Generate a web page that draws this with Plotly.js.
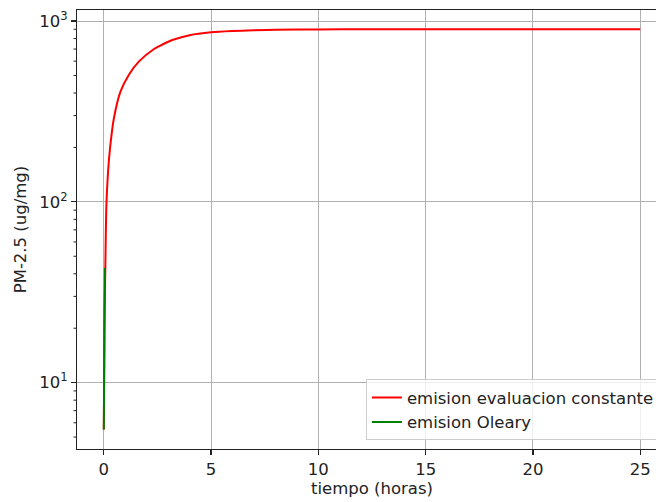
<!DOCTYPE html>
<html>
<head>
<meta charset="utf-8">
<script src="https://cdn.plot.ly/plotly-3.0.1.min.js"></script>
<style>
html,body{margin:0;padding:0;overflow:hidden;background:#fff;}
#chart{width:700px;height:502px;}
</style>
</head>
<body>
<div id="chart"></div>
<script>
// Red series: emision evaluacion constante
const tConst = [0, 0.03, 0.07, 0.12, 0.2, 0.29, 0.47, 0.78, 1.17, 1.64, 2.34, 2.59, 3.19, 4.0, 5.0, 6.0, 7.0, 8.0, 10.0, 12.0, 15.0, 20.0, 25.0];
const pmConst = [5.5, 22, 43, 96, 148, 198, 290, 408, 505, 598, 700, 727, 785, 835, 866, 881, 890, 895, 899, 900, 900, 900, 900];
// Green series: emision Oleary
const tOleary = [0, 0.025, 0.05];
const pmOleary = [5.5, 15.4, 43];
// Tick labels
const xTicks = [0, 5, 10, 15, 20, 25];
const yTickVals = [10, 100, 1000];
const yTickText = ['10<sup>1</sup>', '10<sup>2</sup>', '10<sup>3</sup>'];
const yMinorVals = [5, 6, 7, 8, 9, 20, 30, 40, 50, 60, 70, 80, 90, 200, 300, 400, 500, 600, 700, 800, 900];

const font = {family: 'DejaVu Sans', size: 16.5, color: '#222'};
const yRange = [0.633, 3.061];

const traces = [
  {x: tConst, y: pmConst, mode: 'lines', name: 'emision evaluacion constante',
   line: {color: '#ff0000', width: 2, shape: 'spline', smoothing: 0.8}},
  {x: tOleary, y: pmOleary, mode: 'lines', name: 'emision Oleary',
   line: {color: '#008000', width: 2}}
];

const layout = {
  width: 700, height: 502,
  margin: {l: 77, r: 33, t: 10, b: 53},
  paper_bgcolor: '#fff', plot_bgcolor: '#fff',
  font: font,
  showlegend: true,
  xaxis: {
    range: [-1.25, 26.25],
    tickvals: xTicks,
    ticks: 'outside', ticklen: 5, tickwidth: 1.2, tickcolor: '#222',
    showline: true, mirror: true, linecolor: '#222', linewidth: 1,
    showgrid: true, gridcolor: '#b0b0b0', gridwidth: 1,
    zeroline: false,
    tickfont: font,
    title: {text: 'tiempo (horas)', font: font, standoff: 4}
  },
  yaxis: {
    type: 'log',
    range: yRange,
    tickmode: 'array',
    tickvals: yTickVals, ticktext: yTickText,
    ticks: 'outside', ticklen: 5, tickwidth: 1.2, tickcolor: '#222',
    showline: true, mirror: true, linecolor: '#222', linewidth: 1,
    showgrid: true, gridcolor: '#b0b0b0', gridwidth: 1,
    zeroline: false,
    tickfont: font,
    title: {text: 'PM-2.5 (ug/mg)', font: font, standoff: 8}
  },
  legend: {
    x: 0.988, y: 0.02, xanchor: 'right', yanchor: 'bottom',
    bgcolor: 'rgba(255,255,255,0.8)', bordercolor: '#cccccc', borderwidth: 1,
    font: font, tracegroupgap: 0
  }
};

Plotly.newPlot('chart', traces, layout, {displayModeBar: false, staticPlot: true}).then(function () {
  // minor ticks on the log y axis, placed through the axis scale
  const gd = document.getElementById('chart');
  const ya = gd._fullLayout.yaxis;
  const xa = gd._fullLayout.xaxis;
  const svg = gd.querySelector('.main-svg');
  const ns = 'http://www.w3.org/2000/svg';
  const g = document.createElementNS(ns, 'g');
  const x0 = xa._offset;
  yMinorVals.forEach(function (v) {
    const py = ya._offset + ya.l2p(Math.log10(v));
    const ln = document.createElementNS(ns, 'line');
    ln.setAttribute('x1', x0 - 3.5); ln.setAttribute('x2', x0);
    ln.setAttribute('y1', py); ln.setAttribute('y2', py);
    ln.setAttribute('stroke', '#222'); ln.setAttribute('stroke-width', '1');
    g.appendChild(ln);
  });
  svg.appendChild(g);
});
</script>
</body>
</html>
